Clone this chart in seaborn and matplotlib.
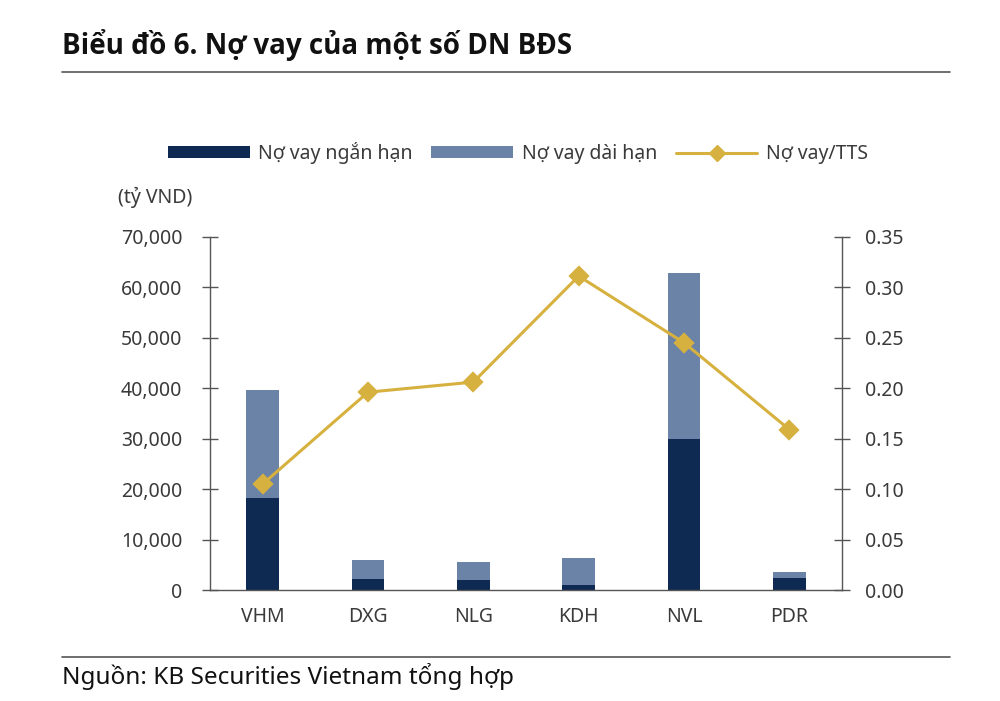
import matplotlib
matplotlib.use("Agg")
import matplotlib.pyplot as plt
import seaborn as sns
import pandas as pd
import numpy as np
from matplotlib.patches import Patch
from matplotlib.lines import Line2D

companies = ["VHM", "DXG", "NLG", "KDH", "NVL", "PDR"]
short_term = [18300, 2100, 1900, 900, 29900, 2300]
long_term = [21400, 3800, 3700, 5500, 32900, 1300]
debt_to_assets = [0.105, 0.196, 0.206, 0.311, 0.245, 0.159]

left_ticks = [0, 10000, 20000, 30000, 40000, 50000, 60000, 70000]
right_ticks = [0.00, 0.05, 0.10, 0.15, 0.20, 0.25, 0.30, 0.35]

title = "Biểu đồ 6. Nợ vay của một số DN BĐS"
unit_label = "(tỷ VND)"
source = "Nguồn: KB Securities Vietnam tổng hợp"
legend_labels = ["Nợ vay ngắn hạn", "Nợ vay dài hạn", "Nợ vay/TTS"]

dark = "#0F2A52"
light = "#6A83A6"
gold = "#D7B13F"
txt = "#3A3A3A"

df = pd.DataFrame({
    "company": companies,
    "short": short_term,
    "long": long_term,
    "ratio": debt_to_assets,
})
df["total"] = df["short"] + df["long"]

sns.set_theme(style="white")
plt.rcParams["font.family"] = ["Noto Sans", "DejaVu Sans"]

fig = plt.figure(figsize=(10, 7.01), dpi=100)
ax = fig.add_axes([0.21, 0.1583, 0.632, 0.504])

sns.barplot(data=df, x="company", y="total", order=companies, color=light,
            width=0.31, saturation=1, ax=ax, errorbar=None, linewidth=0)
sns.barplot(data=df, x="company", y="short", order=companies, color=dark,
            width=0.31, saturation=1, ax=ax, errorbar=None, linewidth=0)

ax2 = ax.twinx()
sns.pointplot(data=df, x="company", y="ratio", order=companies, color=gold,
              markers="D", markersize=9, linewidth=2.2, errorbar=None, ax=ax2)

for a in (ax, ax2):
    a.set_xlim(-0.5, len(companies) - 0.5)
    a.set_xlabel("")
    a.set_ylabel("")

ax.set_ylim(0, 70000)
ax.set_yticks(left_ticks)
ax.set_yticklabels([f"{v:,}" for v in left_ticks], fontsize=14, color=txt)
ax2.set_ylim(0, 0.35)
ax2.set_yticks(right_ticks)
ax2.set_yticklabels([f"{v:.2f}" for v in right_ticks], fontsize=14, color=txt)

ax.set_xticks(range(len(companies)))
ax.set_xticklabels(companies, fontsize=14, color=txt)
ax.tick_params(axis="x", length=0, pad=12)
ax.set_xticks(np.arange(0.5, len(companies) - 1, 1.0), minor=True)
ax.tick_params(axis="x", which="minor", direction="in", length=6, width=1, color="#555555")
ax.tick_params(axis="y", direction="inout", length=12, width=1, color="#555555", pad=14, left=True)
ax2.tick_params(axis="y", direction="inout", length=11, width=1, color="#555555", pad=11, right=True)

for a in (ax, ax2):
    a.spines["top"].set_visible(False)
    for s in ("left", "right", "bottom"):
        a.spines[s].set_color("#555555")
        a.spines[s].set_linewidth(1)
ax.spines["right"].set_visible(False)
ax2.spines["left"].set_visible(False)
ax2.spines["bottom"].set_visible(False)
ax.grid(False)
ax2.grid(False)

handles = [
    Patch(facecolor=dark, edgecolor="none"),
    Patch(facecolor=light, edgecolor="none"),
    Line2D([0], [0], color=gold, lw=2.2, marker="D", markersize=8),
]
fig.legend(handles, legend_labels, loc="center", bbox_to_anchor=(0.518, 1 - 153 / 701),
           ncol=3, frameon=False, fontsize=14, handlelength=4.2, handleheight=0.55,
           handletextpad=0.45, columnspacing=0.95, labelcolor=txt)

fig.text(0.118, 1 - 197 / 701, unit_label, fontsize=14, color=txt, va="center", ha="left")
fig.text(0.062, 1 - 45 / 701, title, fontsize=20, fontweight="bold", color="#111111",
         va="center", ha="left", family=["Open Sans", "DejaVu Sans"])
fig.add_artist(Line2D([0.062, 0.95], [1 - 72 / 701, 1 - 72 / 701], color="#555555", lw=1.2))
fig.add_artist(Line2D([0.062, 0.95], [1 - 657 / 701, 1 - 657 / 701], color="#555555", lw=1.2))
fig.text(0.062, 1 - 677 / 701, source, fontsize=17.5, color="#111111", va="center", ha="left")

fig.savefig("out.png", dpi=100, facecolor="white")
